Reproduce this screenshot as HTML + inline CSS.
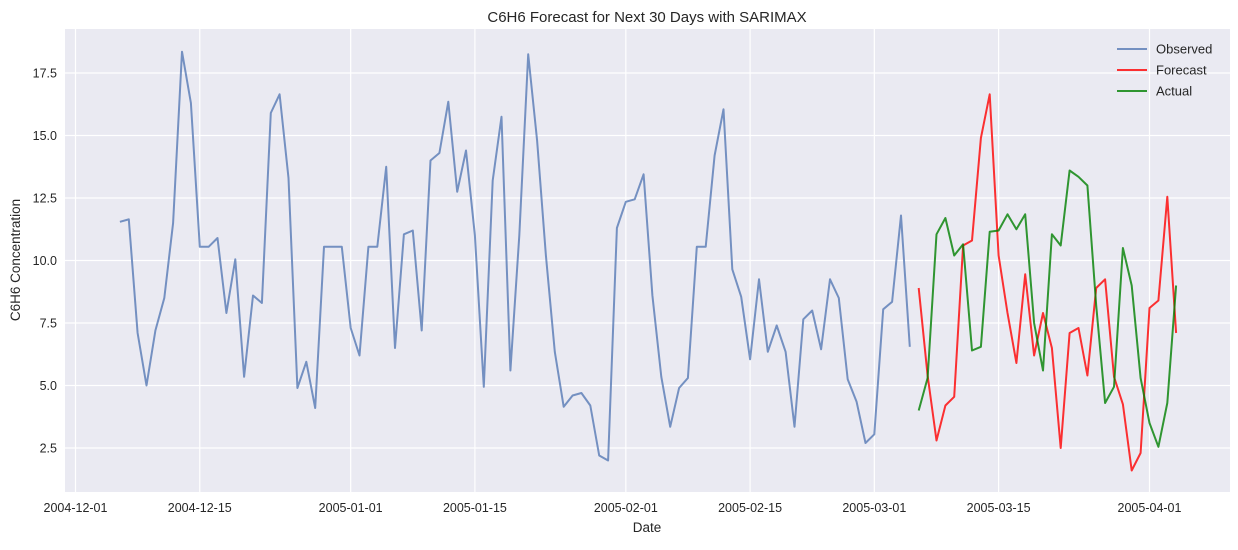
<!DOCTYPE html>
<html><head><meta charset="utf-8"><style>
body{margin:0;background:#fff;font-family:"Liberation Sans",sans-serif;}
svg text{font-family:"Liberation Sans",sans-serif;fill:#262626;}
</style></head><body>
<svg id="chart" width="1238" height="545" xmlns="http://www.w3.org/2000/svg">
<rect x="65" y="29" width="1165" height="463" fill="#eaeaf2"/>
<g id="grid"></g>
<g id="series"></g>
<g id="ticks"></g>
<text x="647" y="22" text-anchor="middle" font-size="15">C6H6 Forecast for Next 30 Days with SARIMAX</text>
<text x="647" y="532" text-anchor="middle" font-size="13.5">Date</text>
<text x="20" y="260" text-anchor="middle" font-size="13.5" transform="rotate(-90 20 260)">C6H6 Concentration</text>
<g>
<g><line x1="1117" y1="49" x2="1147" y2="49" stroke="#4c72b0" stroke-opacity="0.75" stroke-width="2"/><text x="1156" y="53.5" font-size="13">Observed</text></g>
<g><line x1="1117" y1="70" x2="1147" y2="70" stroke="red" stroke-opacity="0.8" stroke-width="2"/><text x="1156" y="74.5" font-size="13">Forecast</text></g>
<g><line x1="1117" y1="91" x2="1147" y2="91" stroke="green" stroke-opacity="0.8" stroke-width="2"/><text x="1156" y="95.5" font-size="13">Actual</text></g>
</g>
</svg>
<script>
const observedStartDay = 5; // days after 2004-12-01
const observedValues = [11.55,11.65,7.1,5.0,7.2,8.5,11.5,18.35,16.3,10.55,10.55,10.9,7.9,10.05,5.35,8.6,8.3,15.9,16.65,13.3,4.9,5.95,4.1,10.55,10.55,10.55,
7.3,6.2,10.55,10.55,13.75,6.5,11.05,11.2,7.2,14.0,14.3,16.35,12.75,14.4,11.0,4.95,13.2,15.75,5.6,11.0,18.25,14.8,10.2,6.35,4.15,4.6,4.7,4.2,2.2,2.0,11.3,
12.35,12.45,13.45,8.6,5.35,3.35,4.9,5.3,10.55,10.55,14.2,16.05,9.65,8.55,6.05,9.25,6.35,7.4,6.35,3.35,7.65,8.0,6.45,9.25,8.5,5.25,4.35,2.7,
3.05,8.05,8.35,11.8,6.55];
const forecastStartDay = 95;
const forecastValues = [8.9,5.4,2.8,4.2,4.55,10.6,10.8,14.9,16.65,10.2,7.9,5.9,9.45,6.2,7.9,6.5,2.5,7.1,7.3,5.4,8.9,9.25,5.35,4.25,1.6,2.3,8.1,8.4,12.55,7.1];
const actualValues = [4.0,5.3,11.05,11.7,10.2,10.65,6.4,6.55,11.15,11.2,11.85,11.25,11.85,7.5,5.6,11.05,10.6,13.6,13.35,13.0,8.2,4.3,4.95,10.5,9.0,5.3,3.5,2.55,4.3,9.0];
const yTicks = [2.5,5.0,7.5,10.0,12.5,15.0,17.5];
const xTickDays = [0,14,31,45,62,76,90,104,121];
const xTickLabels = ["2004-12-01","2004-12-15","2005-01-01","2005-01-15","2005-02-01","2005-02-15","2005-03-01","2005-03-15","2005-04-01"];

const NS="http://www.w3.org/2000/svg";
const xS = d => 75.5 + d*(1074/121);
const yS = v => 510.5 - v*25;
function mk(tag, attrs, parent){const e=document.createElementNS(NS,tag);for(const k in attrs)e.setAttribute(k,attrs[k]);parent.appendChild(e);return e;}
const grid=document.getElementById('grid'), ticks=document.getElementById('ticks'), series=document.getElementById('series');
yTicks.forEach(v=>{
  const l=mk('line',{x1:65,x2:1230,y1:yS(v),y2:yS(v),stroke:'#fff','stroke-width':1.2},grid);
  
  
  const t=mk('text',{x:57,y:yS(v)+4.5,'text-anchor':'end','font-size':12.5},ticks);
  t.textContent=v.toFixed(1);
  
  
});
xTickDays.forEach((d,i)=>{
  const l=mk('line',{x1:xS(d),x2:xS(d),y1:29,y2:492,stroke:'#fff','stroke-width':1.2},grid);
  
  
  const t=mk('text',{x:xS(d),y:512,'text-anchor':'middle','font-size':12.5},ticks);
  t.textContent=xTickLabels[i];
  
  
});
function line(vals,start,color,op,name){
  const pts=vals.map((v,i)=>xS(start+i).toFixed(1)+','+yS(v).toFixed(1)).join(' ');
  const p=mk('polyline',{points:pts,fill:'none',stroke:color,'stroke-opacity':op,'stroke-width':2,'stroke-linejoin':'round'},series);
  
  
}
line(observedValues,observedStartDay,'#4c72b0',0.75,'observed-line');
line(forecastValues,forecastStartDay,'red',0.8,'forecast-line');
line(actualValues,forecastStartDay,'green',0.8,'actual-line');
</script>
</body></html>
